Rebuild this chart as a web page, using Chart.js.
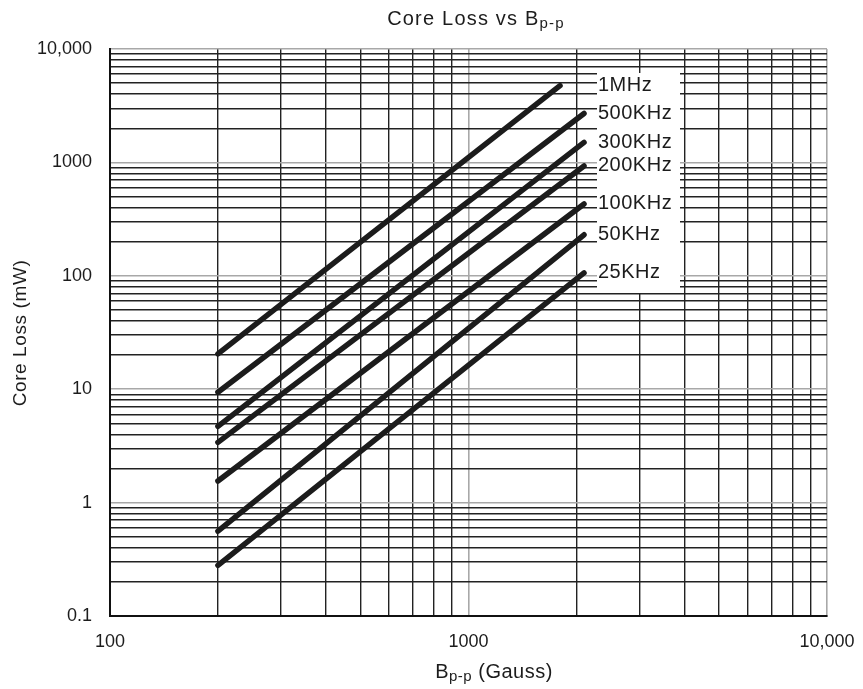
<!DOCTYPE html>
<html>
<head>
<meta charset="utf-8">
<script src="https://cdn.jsdelivr.net/npm/chart.js@4.4.1/dist/chart.umd.min.js"></script>
<style>
  body { margin: 0; background: #fff; }
  #wrap { width: 863px; height: 689px; }
</style>
</head>
<body>
<div id="wrap"><canvas id="lossChart" width="863" height="689"></canvas></div>
<script>
// series: each curve is straight on log-log, so two points
const freqLabels = ['1MHz', '500KHz', '300KHz', '200KHz', '100KHz', '50KHz', '25KHz'];
const startFlux = [200, 200, 200, 200, 200, 200, 200];
const endFlux = [1800, 2100, 2100, 2100, 2100, 2100, 2100];
const startLoss = [20.5, 9.4, 4.7, 3.4, 1.55, 0.56, 0.28];
const endLoss = [4750, 2700, 1500, 930, 430, 230, 106];

// axes
const xDecades = [100, 1000];
const xMax = 10000;
const yDecades = [0.1, 1, 10, 100, 1000];
const yMax = 10000;
const xTickValues = [100, 1000, 10000];
const xTickText = ['100', '1000', '10,000'];
const yTickValues = [0.1, 1, 10, 100, 1000, 10000];
const yTickText = ['0.1', '1', '10', '100', '1000', '10,000'];

function gridValues(decades, max) {
  const out = [];
  decades.forEach(d => {
    for (let m = 1; m <= 9; m++) out.push(Number((m * d).toPrecision(6)));
  });
  out.push(max);
  return out;
}
function isDecade(v) {
  const l = Math.log10(v);
  return Math.abs(l - Math.round(l)) < 1e-6;
}
function labelFor(values, texts, v) {
  const i = values.findIndex(t => Math.abs(t - v) / t < 1e-6);
  return i >= 0 ? texts[i] : '';
}
function noPadding(s) {
  s.paddingLeft = 0;
  s.paddingRight = 0;
  s.paddingTop = 0;
  s.paddingBottom = 0;
}

const FONT = '"Liberation Sans", Arial, Helvetica, sans-serif';
const INK = '#1c1c1c';

const datasets = freqLabels.map((name, i) => ({
  label: name,
  data: [{x: startFlux[i], y: startLoss[i]}, {x: endFlux[i], y: endLoss[i]}],
  showLine: true,
  borderColor: INK,
  backgroundColor: INK,
  borderWidth: 5.5,
  borderCapStyle: 'round',
  pointRadius: 0,
  pointHoverRadius: 0
}));

// draws text made of [text, isSub] pieces, centred on cx
function drawPieces(ctx, pieces, cx, cy, size, subSize, spacing) {
  let total = 0;
  const widths = pieces.map(p => {
    ctx.font = (p[1] ? subSize : size) + 'px ' + FONT;
    ctx.letterSpacing = spacing + 'px';
    const w = ctx.measureText(p[0]).width;
    total += w;
    return w;
  });
  let x = cx - total / 2;
  pieces.forEach((p, i) => {
    ctx.font = (p[1] ? subSize : size) + 'px ' + FONT;
    ctx.letterSpacing = spacing + 'px';
    ctx.fillText(p[0], x, p[1] ? cy + 5 : cy);
    x += widths[i];
  });
}

const decorPlugin = {
  id: 'decor',
  beforeDatasetsDraw(chart) {
    const ctx = chart.ctx;
    ctx.save();
    ctx.fillStyle = '#fff';
    ctx.fillRect(597, 73, 83, 220);
    ctx.restore();
  },
  afterDatasetsDraw(chart) {
    const ctx = chart.ctx;
    const ys = chart.scales.y;
    ctx.save();
    ctx.fillStyle = INK;
    ctx.textBaseline = 'middle';
    ctx.textAlign = 'left';
    ctx.font = '20px ' + FONT;
    ctx.letterSpacing = '0.5px';
    freqLabels.forEach((name, i) => {
      ctx.fillText(name, 598, ys.getPixelForValue(endLoss[i]));
    });
    ctx.restore();
  },
  afterDraw(chart) {
    const ctx = chart.ctx;
    ctx.save();
    ctx.fillStyle = INK;
    ctx.textBaseline = 'middle';
    ctx.textAlign = 'left';
    drawPieces(ctx, [['Core Loss vs B', false], ['p-p', true]], 476, 19, 20, 15, 1.2);
    drawPieces(ctx, [['B', false], ['p-p', true], [' (Gauss)', false]], 494, 672, 20, 15, 0.5);
    ctx.translate(21, 333);
    ctx.rotate(-Math.PI / 2);
    ctx.textAlign = 'center';
    ctx.font = '19px ' + FONT;
    ctx.letterSpacing = '0.6px';
    ctx.fillText('Core Loss (mW)', 0, 0);
    ctx.restore();
  }
};

const gridColor = c => (c.tick && isDecade(c.tick.value)) ? '#a8a8a8' : '#222';
const gridWidth = c => (c.tick && isDecade(c.tick.value)) ? 1.6 : 1.4;

new Chart(document.getElementById('lossChart'), {
  type: 'scatter',
  data: { datasets: datasets },
  plugins: [decorPlugin],
  options: {
    responsive: false,
    animation: false,
    layout: { padding: { top: 49, right: 36, left: 0, bottom: 0 } },
    plugins: {
      legend: { display: false },
      tooltip: { enabled: false }
    },
    scales: {
      x: {
        type: 'logarithmic',
        min: 100,
        max: xMax,
        afterBuildTicks: s => { s.ticks = gridValues(xDecades, xMax).map(v => ({value: v})); },
        afterFit: s => { s.height = 73; noPadding(s); },
        grid: { color: gridColor, lineWidth: gridWidth, drawTicks: false },
        border: { color: '#111', width: 2 },
        ticks: {
          autoSkip: false,
          maxRotation: 0,
          padding: 15,
          color: INK,
          font: { family: FONT, size: 18 },
          callback: v => labelFor(xTickValues, xTickText, v)
        }
      },
      y: {
        type: 'logarithmic',
        min: 0.1,
        max: yMax,
        afterBuildTicks: s => { s.ticks = gridValues(yDecades, yMax).map(v => ({value: v})); },
        afterFit: s => { s.width = 110; noPadding(s); },
        grid: { color: gridColor, lineWidth: gridWidth, drawTicks: false },
        border: { color: '#111', width: 2 },
        ticks: {
          autoSkip: false,
          padding: 18,
          color: INK,
          font: { family: FONT, size: 18 },
          callback: v => labelFor(yTickValues, yTickText, v)
        }
      }
    }
  }
});
</script>
</body>
</html>
